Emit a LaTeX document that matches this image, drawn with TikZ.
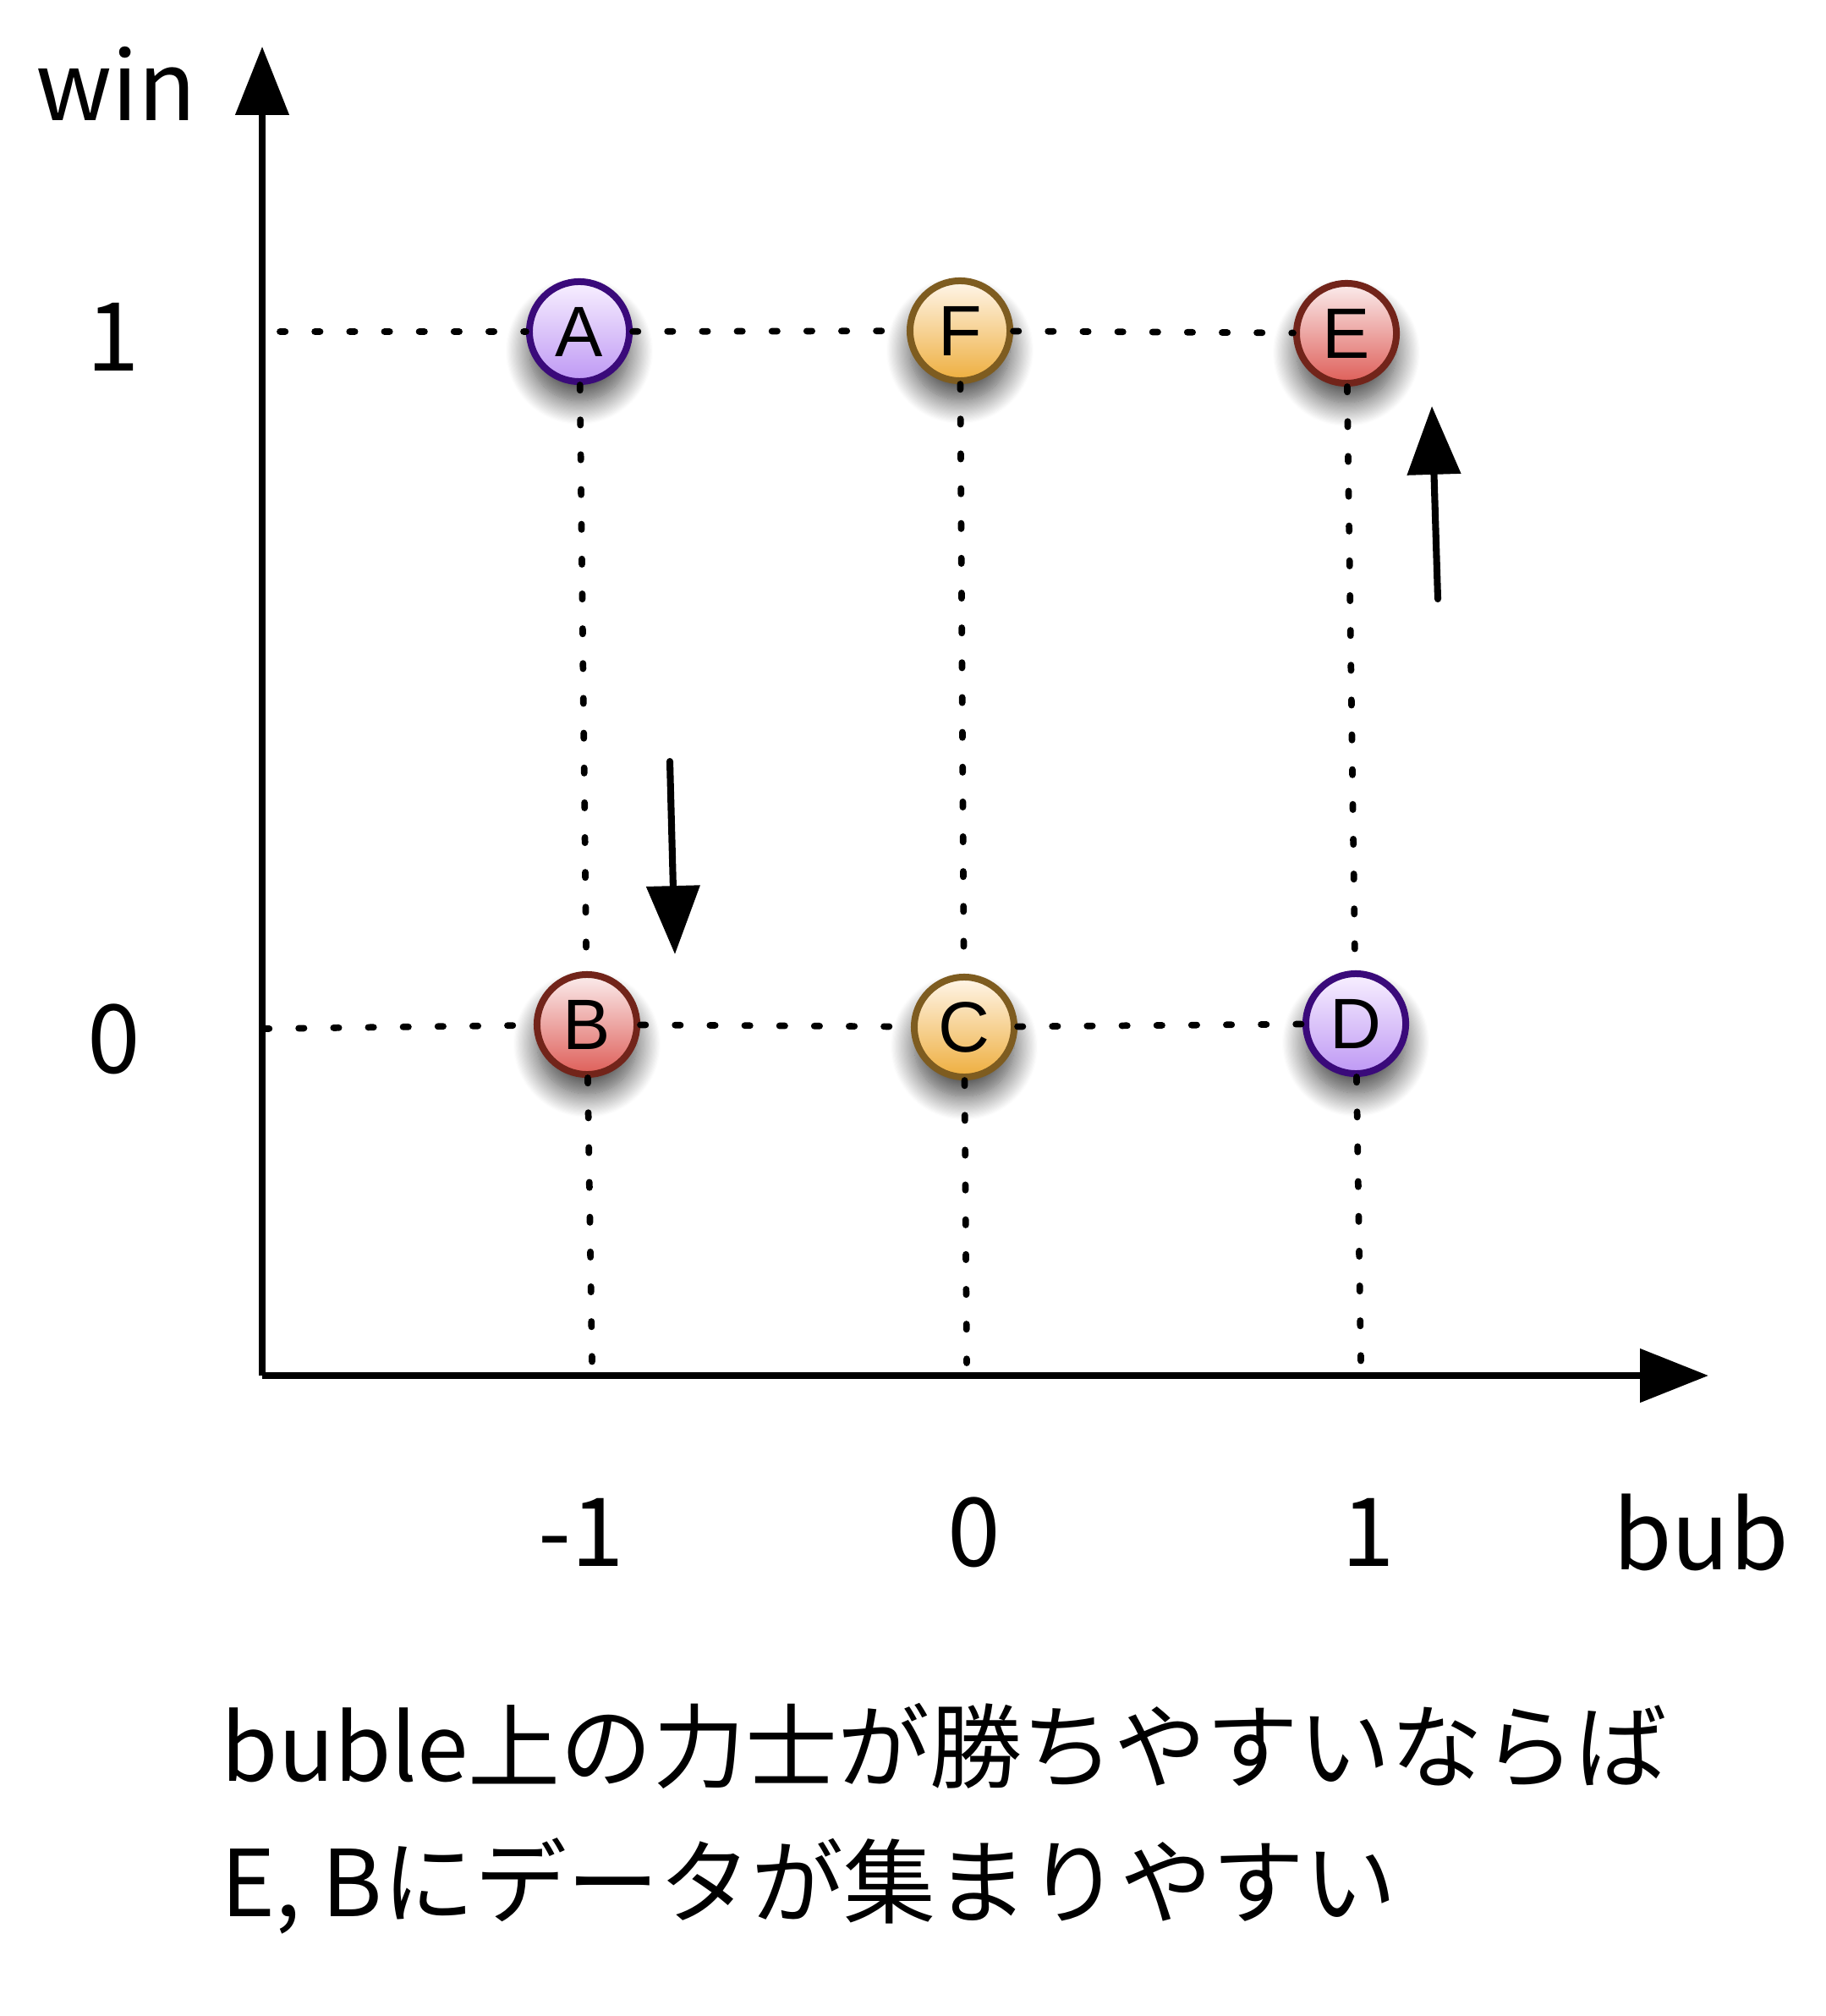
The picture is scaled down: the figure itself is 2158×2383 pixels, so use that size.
\documentclass[tikz,border=0pt]{standalone}
\usepackage{fontspec}
\setmainfont{Noto Sans CJK JP}
\newfontfamily\ballfont{Liberation Sans}
\usetikzlibrary{arrows.meta, shadows.blur}
\definecolor{PurpleEdge}{HTML}{3A0A7A}
\definecolor{PurpleTop}{HTML}{F8F0FF}
\definecolor{PurpleBot}{HTML}{BE98F4}
\definecolor{RedEdge}{HTML}{72241A}
\definecolor{RedTop}{HTML}{FBEDED}
\definecolor{RedBot}{HTML}{DE5E58}
\definecolor{GoldEdge}{HTML}{7E5C20}
\definecolor{GoldTop}{HTML}{FFF6EA}
\definecolor{GoldBot}{HTML}{EEAE3E}
\tikzset{
    ball/.style={circle, minimum size=1.18cm, inner sep=0pt, line width=0.08cm,
        font=\ballfont\fontsize{24}{26}\selectfont,
        blur shadow={shadow xshift=0pt, shadow yshift=-6.5pt, shadow blur radius=8pt,
            shadow blur steps=24, shadow opacity=75, shadow scale=1.0}},
    purpleball/.style={ball, draw=PurpleEdge, top color=PurpleTop, bottom color=PurpleBot},
    redball/.style={ball, draw=RedEdge, top color=RedTop, bottom color=RedBot},
    goldball/.style={ball, draw=GoldEdge, top color=GoldTop, bottom color=GoldBot},
    axis/.style={line width=2.3pt, -{Triangle[length=23pt, width=17.6pt]}},
    trend/.style={line width=2.3pt, line cap=round, -{Triangle[length=23pt, width=17.6pt]}},
    guide/.style={line width=2.2pt, line cap=round, dash pattern=on 1.8pt off 9.9pt},
    lbl/.style={inner sep=0pt, font=\fontsize{32}{40}\selectfont},
    note/.style={inner sep=0pt, anchor=west, font=\fontsize{31}{40}\selectfont},
}
\begin{document}
\begin{tikzpicture}[x=0.01cm, y=-0.01cm]
    \useasboundingbox (0,0) rectangle (2158,2383);
    % axes
    \coordinate (origin) at (310,1626);
    \coordinate (ytip) at (310,55);
    \coordinate (xtip) at (2020,1626);
    \draw[axis] (origin) -- (ytip);
    \draw[axis] (origin) -- (xtip);
    % balls
    \node[purpleball] (A) at (685,392) {A};
    \node[goldball] (F) at (1135,391) {F};
    \node[redball] (E) at (1592,394) {E};
    \node[redball] (B) at (694,1211) {B};
    \node[goldball] (C) at (1140,1214) {C};
    \node[purpleball] (D) at (1603,1210) {D};
    % guide lines
    \coordinate (row1) at (331,392);
    \coordinate (row0) at (312,1216);
    \coordinate (colB) at (700,1611);
    \coordinate (colC) at (1143,1611);
    \coordinate (colD) at (1609,1611);
    \draw[guide] (row1) -- (A) -- (F) -- (E);
    \draw[guide] (row0) -- (B) -- (C) -- (D);
    \draw[guide] (A) -- (B);
    \draw[guide] (F) -- (C);
    \draw[guide] (E) -- (D);
    \draw[guide] (B) -- (colB);
    \draw[guide] (C) -- (colC);
    \draw[guide] (D) -- (colD);
    % trends
    \coordinate (upfrom) at (1700,708);
    \coordinate (upto) at (1693,480);
    \coordinate (downfrom) at (792,900);
    \coordinate (downto) at (798,1128);
    \draw[trend] (upfrom) -- (upto);
    \draw[trend] (downfrom) -- (downto);
    % labels
    \node[lbl] (win) at (137,99) {win};
    \node[lbl] (yone) at (134,398) {1};
    \node[lbl] (yzero) at (135,1228) {0};
    \node[lbl] (xmone) at (687,1811) {-1};
    \node[lbl] (xzero) at (1152,1811) {0};
    \node[lbl] (xone) at (1618,1811) {1};
    \node[lbl] (bub) at (2011,1811) {bub};
    \node[note] (line1) at (261,2064) {buble上の力士が勝ちやすいならば};
    \node[note] (line2) at (261,2229) {E, Bにデータが集まりやすい};
\end{tikzpicture}
\end{document}
